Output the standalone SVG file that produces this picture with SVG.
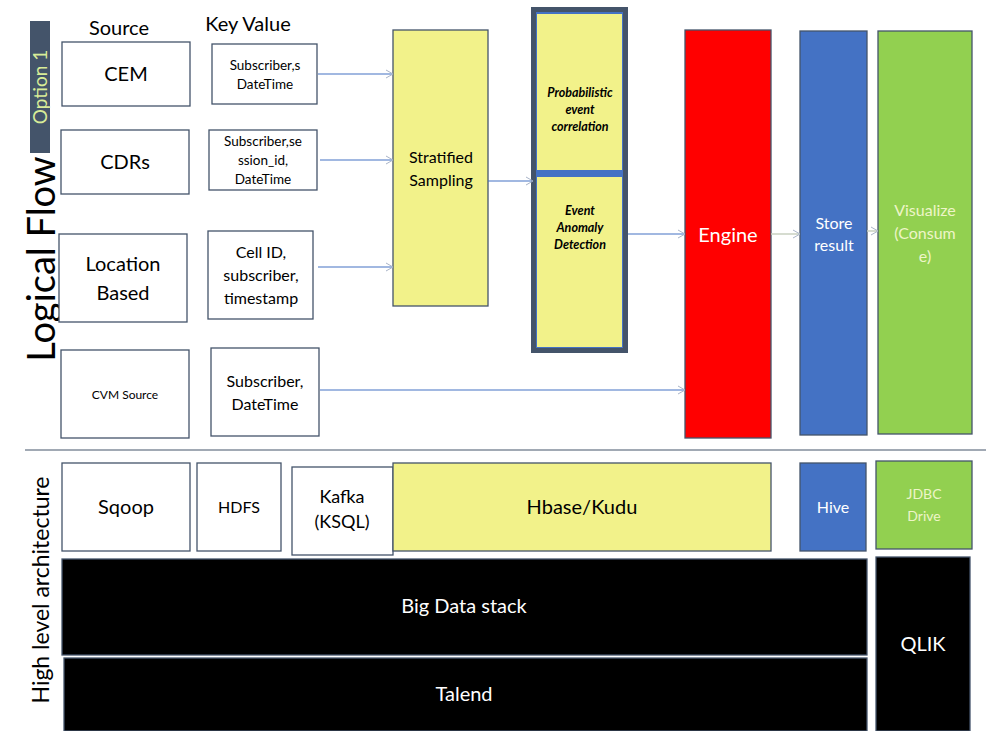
<svg xmlns="http://www.w3.org/2000/svg" width="986" height="731" viewBox="0 0 986 731">
<defs>
<style>
text{font-family:Lato,"Open Sans","Liberation Sans",sans-serif;fill:#000;text-anchor:middle}
.box{fill:#fff;stroke:#44546a;stroke-width:1.3}
.yel{fill:#f2f28a;stroke:#44546a;stroke-width:1.3}
.blk{fill:#000;stroke:#44546a;stroke-width:1.3}
.conn{stroke:#4472c4;stroke-width:1.2;fill:none;marker-end:url(#ah)}
.w{fill:#fff}
.it{font-style:italic;font-weight:bold;font-size:12.5px}
</style>
<marker id="ah" markerWidth="10" markerHeight="10" refX="8" refY="5" orient="auto" markerUnits="userSpaceOnUse">
<path d="M1,1 L8,5 L1,9" fill="none" stroke="#a9b4c8" stroke-width="1"/>
</marker>
</defs>
<rect width="986" height="731" fill="#fff"/>

<g id="option1">
<rect x="30" y="21" width="20" height="132" fill="#44546a"/>
<text transform="translate(47,87) rotate(-90)" font-size="19" style="fill:#d8ec98">Option 1</text>
</g>
<text id="logical-flow" transform="translate(55,259) rotate(-90)" font-size="38">Logical Flow</text>
<text id="high-level" transform="translate(49,590) rotate(-90)" font-size="23">High level architecture</text>
<text x="119" y="35" font-size="20">Source</text>
<text x="248" y="31" font-size="20">Key Value</text>

<g id="cem"><rect class="box" x="62" y="42" width="128" height="64"/><text x="126" y="81" font-size="20">CEM</text></g>
<g id="cdrs"><rect class="box" x="61" y="130" width="128" height="64"/><text x="125" y="169" font-size="20">CDRs</text></g>
<g id="location"><rect class="box" x="59" y="234" width="128" height="88"/><text x="123" y="271" font-size="20">Location</text><text x="123" y="300" font-size="20">Based</text></g>
<g id="cvm"><rect class="box" x="61" y="350" width="128" height="88"/><text x="125" y="399" font-size="12">CVM Source</text></g>

<g id="kv1"><rect class="box" x="212" y="44" width="105" height="60"/><text x="265" y="70" font-size="13.5">Subscriber,s</text><text x="265" y="89" font-size="13.5">DateTime</text></g>
<g id="kv2"><rect class="box" x="209" y="130" width="108" height="60"/><text x="263" y="146" font-size="13.5">Subscriber,se</text><text x="263" y="165" font-size="13.5">ssion_id,</text><text x="263" y="184" font-size="13.5">DateTime</text></g>
<g id="kv3"><rect class="box" x="208" y="231" width="105" height="88"/><text x="261" y="258" font-size="16">Cell ID,</text><text x="261" y="281" font-size="16">subscriber,</text><text x="261" y="304" font-size="16">timestamp</text></g>
<g id="kv4"><rect class="box" x="211" y="348" width="108" height="88"/><text x="265" y="387" font-size="16">Subscriber,</text><text x="265" y="410" font-size="16">DateTime</text></g>

<g id="stratified"><rect class="yel" x="393" y="30" width="95" height="276"/><text x="441" y="163" font-size="16">Stratified</text><text x="441" y="186" font-size="16">Sampling</text></g>

<g id="analytics">
<rect x="533.5" y="9.5" width="92" height="341" fill="#4472c4" stroke="#44546a" stroke-width="5"/>
<g id="prob"><rect x="537" y="14" width="85" height="156" fill="#f2f28a"/><text class="it" x="580" y="97">Probabilistic</text><text class="it" x="580" y="114">event</text><text class="it" x="580" y="131">correlation</text></g>
<g id="anomaly"><rect x="537" y="177" width="85" height="170" fill="#f2f28a"/><text class="it" x="580" y="215">Event</text><text class="it" x="580" y="232">Anomaly</text><text class="it" x="580" y="249">Detection</text></g>
</g>

<g id="engine"><rect x="685" y="30" width="86" height="408" fill="#ff0000" stroke="#44546a" stroke-width="1.3"/><text class="w" x="728" y="242" font-size="20">Engine</text></g>
<g id="store"><rect x="800" y="31" width="67" height="404" fill="#4472c4" stroke="#44546a" stroke-width="1.3"/><text class="w" x="834" y="229" font-size="16">Store</text><text class="w" x="834" y="251" font-size="16">result</text></g>
<g id="visualize"><rect x="878" y="31" width="94" height="403" fill="#92d050" stroke="#44546a" stroke-width="1.3"/><text x="925" y="216" font-size="16" style="fill:#eef5c8">Visualize</text><text x="925" y="239" font-size="16" style="fill:#eef5c8">(Consum</text><text x="925" y="262" font-size="16" style="fill:#eef5c8">e)</text></g>

<g id="connectors">
<path class="conn" d="M318,74 H393"/>
<path class="conn" d="M320,160 H393"/>
<path class="conn" d="M318,267 H393"/>
<path class="conn" d="M320,390 H685"/>
<path class="conn" d="M488,181 H533"/>
<path class="conn" d="M628,234 H685"/>
<path d="M771,234 H800" stroke="#c8d0c0" stroke-width="1.5" fill="none" marker-end="url(#ah)"/>
<path d="M867,231 H878" stroke="#c8d0c0" stroke-width="1.5" fill="none" marker-end="url(#ah)"/>
</g>

<line id="separator" x1="25" y1="450" x2="986" y2="450" stroke="#44546a" stroke-width="1.2"/>

<g id="sqoop"><rect class="box" x="62" y="463" width="128" height="88"/><text x="126" y="514" font-size="20">Sqoop</text></g>
<g id="hdfs"><rect class="box" x="197" y="463" width="84" height="88"/><text x="239" y="513" font-size="16">HDFS</text></g>
<g id="kafka"><rect class="box" x="292" y="467" width="101" height="88"/><text x="342" y="503" font-size="18">Kafka</text><text x="342" y="528" font-size="18">(KSQL)</text></g>
<g id="hbase"><rect class="yel" x="393" y="463" width="378" height="88"/><text x="582" y="514" font-size="20">Hbase/Kudu</text></g>
<g id="hive"><rect x="800" y="463" width="66" height="88" fill="#4472c4" stroke="#44546a" stroke-width="1.3"/><text class="w" x="833" y="513" font-size="16">Hive</text></g>
<g id="jdbc"><rect x="876" y="461" width="96" height="88" fill="#92d050" stroke="#44546a" stroke-width="1.3"/><text x="924" y="499" font-size="14" style="fill:#eef5c8">JDBC</text><text x="924" y="521" font-size="14" style="fill:#eef5c8">Drive</text></g>
<g id="bigdata"><rect class="blk" x="62" y="559" width="805" height="96"/><text class="w" x="464" y="613" font-size="20">Big Data stack</text></g>
<g id="talend"><rect class="blk" x="64" y="658" width="803" height="73"/><text class="w" x="464" y="701" font-size="20">Talend</text></g>
<g id="qlik"><rect class="blk" x="876" y="557" width="94" height="174"/><text class="w" x="923" y="651" font-size="20">QLIK</text></g>
</svg>
